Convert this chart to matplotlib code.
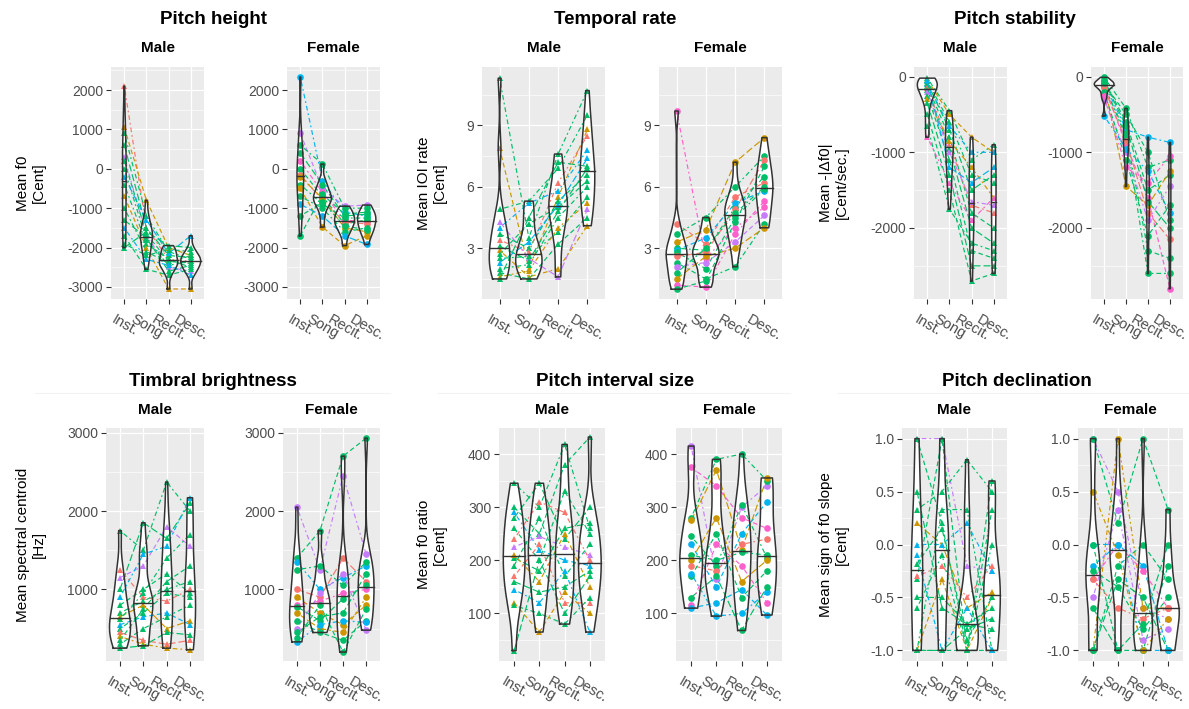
import numpy as np
import matplotlib
matplotlib.use("Agg")
import matplotlib.pyplot as plt

plt.rcParams['font.family'] = ['Liberation Sans', 'DejaVu Sans']

W, H = 1189, 709

CATS = ["Inst.", "Song", "Recit.", "Desc."]
# red, gold, green, cyan, violet, pink
COLORS = ["#F8766D", "#CD9600", "#00BE67", "#00B4EF", "#C77CFF", "#FF61CC"]

# ── data: one row per recording (Inst., Song, Recit., Desc.) ────────────────
PH_M = [[2100, -1500, -2300, -2350], [1050, -800, -2000, -2200], [900, -1200, -2100, -2300],
        [600, -1500, -2200, -2250], [300, -1700, -2500, -2600], [200, -1650, -2350, -2400],
        [0, -1800, -2450, -2350], [-200, -1300, -2150, -1700], [-400, -1900, -2300, -2500],
        [-700, -2000, -3050, -3050], [-1000, -2100, -2400, -2200], [-1300, -1750, -2600, -2450],
        [-1500, -2300, -2450, -2700], [-1700, -2550, -2700, -2550], [-1900, -2200, -2050, -2100],
        [-2000, -1600, -1950, -2000]]
PH_M_COL = [0, 1, 2, 2, 4, 2, 2, 3, 2, 1, 2, 2, 3, 2, 2, 2]
PH_F = [[2330, -300, -1100, -1200], [900, -500, -950, -920], [600, 120, -1000, -1000],
        [400, -400, -1200, -1150], [200, -600, -1300, -1350], [0, -700, -1400, -1300],
        [-150, -800, -1350, -1400], [-200, -750, -1500, -1600], [-400, -900, -1250, -1250],
        [-500, -1480, -1950, -1700], [-700, -1000, -1600, -1500], [-900, -1200, -1700, -1920],
        [-1200, -850, -1450, -1550], [-1700, -650, -1150, -1100]]
PH_F_COL = [3, 4, 2, 2, 5, 2, 0, 1, 2, 1, 2, 3, 2, 2]

TR_M = [[11.3, 3.5, 7.6, 10.7], [7.9, 2.0, 5.5, 8.8], [4.9, 5.3, 6.9, 9.5], [4.3, 2.5, 1.6, 4.9],
        [4.0, 5.2, 5.8, 7.8], [3.7, 3.0, 5.3, 6.6], [3.4, 2.8, 6.2, 8.5], [3.1, 2.4, 4.8, 6.9],
        [2.9, 1.6, 2.0, 4.1], [2.7, 4.2, 5.0, 6.3], [2.5, 2.6, 3.8, 5.5], [2.3, 3.3, 5.1, 7.4],
        [2.0, 2.2, 4.5, 6.0], [1.8, 1.5, 3.2, 4.5], [1.6, 1.9, 4.0, 5.2], [1.5, 4.5, 7.2, 7.0]]
TR_M_COL = [2, 1, 2, 4, 3, 2, 0, 2, 1, 2, 2, 3, 2, 2, 1, 2]
TR_F = [[9.7, 2.5, 4.0, 5.0], [4.2, 3.2, 5.5, 6.2], [3.7, 4.5, 6.0, 7.5], [3.3, 3.9, 7.2, 8.4],
        [3.0, 2.9, 5.0, 6.5], [2.9, 3.5, 5.2, 5.8], [2.8, 2.0, 4.5, 5.9], [2.6, 2.8, 4.9, 7.3],
        [2.3, 1.5, 2.1, 4.2], [2.1, 2.3, 3.3, 4.6], [1.8, 3.0, 4.7, 6.0], [1.5, 2.6, 3.0, 4.0],
        [1.2, 1.1, 3.7, 5.3], [1.0, 1.4, 4.3, 7.0]]
TR_F_COL = [5, 0, 2, 1, 2, 3, 2, 0, 2, 4, 2, 1, 5, 2]

PS_M = [[-20, -450, -1100, -900], [-40, -500, -800, -1000], [-60, -600, -1300, -1400],
        [-80, -700, -1500, -1300], [-100, -650, -1000, -1000], [-120, -800, -1800, -2000],
        [-150, -900, -1700, -1800], [-180, -950, -2000, -2200], [-200, -1000, -1650, -1700],
        [-250, -1100, -2300, -2400], [-300, -850, -1200, -1600], [-350, -1300, -2500, -2500],
        [-800, -1400, -1900, -1600], [-500, -1500, -2700, -2600], [-650, -1750, -2200, -2300],
        [-50, -1200, -1400, -1200]]
PS_M_COL = [2, 1, 2, 2, 3, 2, 0, 2, 4, 2, 1, 2, 5, 2, 2, 3]
PS_F = [[-10, -420, -1200, -1100], [-50, -600, -1500, -1300], [-80, -700, -800, -870],
        [-100, -1450, -1700, -1250], [-110, -800, -2600, -2600], [-120, -900, -1600, -2800],
        [-130, -750, -2300, -2400], [-150, -850, -1800, -2150], [-300, -1000, -1900, -1450],
        [-200, -1100, -2100, -1700], [-520, -950, -1250, -1800], [-60, -650, -1650, -2000],
        [-250, -1200, -1400, -1050], [-90, -500, -1000, -1900]]
PS_F_COL = [2, 2, 3, 1, 2, 5, 2, 0, 4, 2, 3, 2, 5, 2]

TB_M = [[1750, 1500, 2370, 2000], [1150, 1300, 1800, 1550], [1250, 900, 850, 1000],
        [1000, 1850, 1650, 2100], [900, 1450, 1550, 2170], [800, 1000, 1200, 950],
        [700, 850, 1000, 1100], [650, 800, 500, 600], [620, 950, 1400, 1700],
        [550, 650, 700, 550], [500, 700, 950, 900], [450, 350, 300, 350],
        [400, 300, 250, 230], [350, 750, 1100, 1300], [300, 500, 650, 800],
        [250, 280, 450, 420]]
TB_M_COL = [2, 4, 0, 2, 3, 2, 2, 1, 2, 3, 2, 0, 1, 2, 2, 2]
TB_F = [[2050, 1250, 2450, 1450], [1400, 1750, 2700, 2930], [1350, 1000, 1150, 1300],
        [1000, 900, 1400, 1100], [1250, 1300, 1050, 1350], [900, 700, 550, 800],
        [800, 850, 950, 1000], [780, 600, 880, 1050], [700, 500, 450, 900],
        [600, 450, 350, 600], [500, 950, 1200, 480], [450, 650, 700, 1200],
        [330, 550, 600, 580], [380, 800, 200, 750]]
TB_F_COL = [4, 2, 3, 0, 2, 1, 5, 2, 1, 2, 4, 2, 3, 2]

PI_M = [[345, 300, 418, 260], [300, 250, 380, 432], [240, 310, 290, 200], [280, 345, 240, 300],
        [290, 220, 200, 190], [260, 200, 330, 250], [225, 245, 225, 210], [205, 180, 260, 270],
        [210, 160, 250, 150], [190, 280, 170, 230], [170, 230, 120, 120], [160, 140, 150, 180],
        [145, 120, 180, 65], [120, 65, 140, 100], [115, 100, 80, 130], [30, 200, 100, 170]]
PI_M_COL = [2, 2, 0, 2, 3, 2, 4, 2, 1, 2, 0, 2, 3, 1, 2, 2]
PI_F = [[415, 165, 300, 340], [375, 340, 280, 260], [280, 390, 400, 350], [275, 370, 220, 355],
        [245, 190, 305, 205], [230, 150, 250, 310], [210, 200, 215, 210], [200, 280, 160, 200],
        [190, 180, 230, 240], [170, 250, 130, 180], [175, 95, 100, 140], [130, 170, 68, 150],
        [115, 230, 190, 120], [110, 120, 145, 97]]
PI_F_COL = [4, 5, 2, 1, 2, 3, 2, 1, 0, 2, 3, 2, 5, 3]

PD_M = [[1.0, 1.0, -0.2, -0.25], [1.0, 0.2, -1.0, 0.6], [0.33, 0.5, 0.8, 0.5], [0.2, 0.0, -0.6, -0.45],
        [0.0, 0.0, 0.2, -0.25], [-0.33, 1.0, -1.0, -1.0], [-0.3, -0.2, -0.5, -0.2], [-0.5, -0.5, -0.75, -0.6],
        [-1.0, 0.33, 0.33, -1.0], [-1.0, -0.33, -1.0, -0.5], [-1.0, -1.0, -1.0, 0.0], [0.5, -0.6, -0.75, -0.8],
        [-0.1, -1.0, -0.6, -1.0], [-0.18, 0.15, -0.9, -0.5], [-0.6, -0.1, -1.0, 0.33], [-1.0, -1.0, -0.8, -0.7]]
PD_M_COL = [4, 2, 2, 1, 3, 2, 0, 2, 2, 1, 2, 2, 3, 2, 2, 2]
PD_F = [[1.0, 0.5, -0.6, -0.7], [1.0, 0.2, 1.0, 0.33], [-1.0, 1.0, -0.6, -0.6], [0.0, 0.0, -0.2, -1.0],
        [-0.33, 0.0, -0.25, -0.6], [0.0, -1.0, -1.0, -0.2], [-0.5, 0.33, -0.9, -0.8], [-1.0, -0.33, -0.5, -1.0],
        [-0.33, -0.6, -0.7, -0.6], [-1.0, -0.2, 0.0, -0.33], [-0.2, 0.0, -1.0, -1.0], [-0.6, -1.0, -0.75, 0.0],
        [0.5, -0.1, -1.0, -0.7], [-0.25, -0.4, -0.8, -0.5]]
PD_F_COL = [4, 2, 1, 3, 5, 2, 4, 2, 0, 2, 3, 2, 1, 2]

PANELS = [
    dict(title="Pitch height", ylabel="Mean f0\n[Cent]", m=PH_M, mc=PH_M_COL, f=PH_F, fc=PH_F_COL,
         ylim=(-3305, 2584), ticks=[-3000, -2000, -1000, 0, 1000, 2000],
         labels=["-3000", "-2000", "-1000", "0", "1000", "2000"],
         rm=(111, 204), rf=(287, 380), row=0, tx=213, lx=31),
    dict(title="Temporal rate", ylabel="Mean IOI rate\n[Cent]", m=TR_M, mc=TR_M_COL, f=TR_F, fc=TR_F_COL,
         ylim=(0.52, 11.85), ticks=[3, 6, 9], labels=["3", "6", "9"],
         rm=(482, 605), rf=(659, 782), row=0, tx=615, lx=432),
    dict(title="Pitch stability", ylabel="Mean -|\u0394f0|\n[Cent/sec.]", m=PS_M, mc=PS_M_COL, f=PS_F, fc=PS_F_COL,
         ylim=(-2938, 127), ticks=[-2000, -1000, 0], labels=["-2000", "-1000", "0"],
         rm=(914, 1007), rf=(1091, 1183), row=0, tx=1015, lx=834),
    dict(title="Timbral brightness", ylabel="Mean spectral centroid\n[Hz]", m=TB_M, mc=TB_M_COL, f=TB_F, fc=TB_F_COL,
         ylim=(86, 3060), ticks=[1000, 2000, 3000], labels=["1000", "2000", "3000"],
         rm=(106, 204), rf=(283, 380), row=1, tx=213, lx=31),
    dict(title="Pitch interval size", ylabel="Mean f0 ratio\n[Cent]", m=PI_M, mc=PI_M_COL, f=PI_F, fc=PI_F_COL,
         ylim=(10.5, 449), ticks=[100, 200, 300, 400], labels=["100", "200", "300", "400"],
         rm=(499, 605), rf=(676, 782), row=1, tx=615, lx=432),
    dict(title="Pitch declination", ylabel="Mean sign of f0 slope\n[Cent]", m=PD_M, mc=PD_M_COL, f=PD_F, fc=PD_F_COL,
         ylim=(-1.1, 1.1), ticks=[-1, -0.5, 0, 0.5, 1], labels=["-1.0", "-0.5", "0.0", "0.5", "1.0"],
         rm=(902, 1007), rf=(1078, 1183), row=1, tx=1017, lx=834),
]

ROWS = [dict(top=67, bot=299, title_y=20, strip_y=48),
        dict(top=428, bot=661, title_y=381, strip_y=410)]

DASHES = [(0, (1.5, 2.5, 4, 2.5)), (0, (4, 2.5)), (0, (1.5, 2.5, 4, 2.5)), (0, (6, 2.5))]


def rect(x0, x1, top, bot):
    return [x0 / W, 1 - bot / H, (x1 - x0) / W, (bot - top) / H]


def nrd0(v):
    sd = np.std(v, ddof=1)
    iqr = np.subtract(*np.percentile(v, [75, 25]))
    lo = min(sd, iqr / 1.34) if iqr > 0 else sd
    if lo == 0:
        lo = abs(v[0]) if v[0] != 0 else 1.0
    return 0.9 * lo * len(v) ** -0.2


def density(v):
    v = np.asarray(v, float)
    bw = nrd0(v)
    y = np.linspace(v.min(), v.max(), 256)
    d = np.exp(-0.5 * ((y[:, None] - v[None, :]) / bw) ** 2).sum(axis=1)
    d /= len(v) * bw * np.sqrt(2 * np.pi)
    return y, d


def draw_facet(ax, rows, cols, marker, p):
    arr = np.array(rows, float)
    xs = np.arange(1, 5)
    dens = [density(arr[:, j]) for j in range(4)]
    dmax = max(d.max() for _, d in dens)
    for j, (y, d) in enumerate(dens):
        w = d / dmax * 0.45
        x = xs[j]
        ax.fill_betweenx(y, x - w, x + w, facecolor="white", edgecolor="none", zorder=1)
        ox = np.concatenate([x - w, (x + w)[::-1], [x - w[0]]])
        oy = np.concatenate([y, y[::-1], [y[0]]])
        ax.plot(ox, oy, color="#333333", lw=1.1, zorder=5)
        med = np.median(arr[:, j])
        wm = np.interp(med, y, w)
        ax.plot([x - wm, x + wm], [med, med], color="#333333", lw=1.0, zorder=5)
    for i, (r, c) in enumerate(zip(arr, cols)):
        ax.plot(xs, r, color=COLORS[c], lw=0.85, ls=DASHES[i % 4], zorder=2)
        ax.plot(xs, r, ls="none", marker=marker, ms=4.8, color=COLORS[c],
                markeredgewidth=0, zorder=3)

    ax.set_xlim(0.4, 4.6)
    ax.set_ylim(*p["ylim"])
    ax.set_facecolor("#EBEBEB")
    for s in ax.spines.values():
        s.set_visible(False)
    ax.set_xticks(xs)
    ax.set_xticklabels(CATS, rotation=-30, ha="center", va="top")
    ax.set_yticks(p["ticks"])
    ax.set_yticklabels(p["labels"])
    t = np.array(p["ticks"], float)
    step = t[1] - t[0]
    minor = np.arange(t[0] - step / 2, p["ylim"][1], step)
    ax.set_yticks([m for m in minor if p["ylim"][0] < m < p["ylim"][1]], minor=True)
    ax.tick_params(which="major", length=3.5, width=0.8, color="#333333",
                   labelcolor="#4D4D4D", labelsize=10)
    ax.tick_params(axis="x", labelsize=10.5, pad=6)
    ax.tick_params(axis="y", pad=2)
    ax.tick_params(which="minor", length=0)
    ax.set_axisbelow(True)
    ax.grid(which="major", color="white", lw=0.9)
    ax.grid(which="minor", axis="y", color="white", lw=0.45)


fig = plt.figure(figsize=(W / 100, H / 100), dpi=100)

for p in PANELS:
    rw = ROWS[p["row"]]
    for key, col_key, rr, mk, lab in [("m", "mc", p["rm"], "^", "Male"),
                                      ("f", "fc", p["rf"], "o", "Female")]:
        ax = fig.add_axes(rect(rr[0], rr[1], rw["top"], rw["bot"]))
        draw_facet(ax, p[key], p[col_key], mk, p)
        fig.text((rr[0] + rr[1]) / 2 / W, 1 - rw["strip_y"] / H, lab,
                 ha="center", va="center", fontsize=11, fontweight="bold")
    fig.text(p["tx"] / W, 1 - rw["title_y"] / H, p["title"], ha="center", va="center",
             fontsize=13.5, fontweight="bold")
    fig.text(p["lx"] / W, 1 - (rw["top"] + rw["bot"]) / 2 / H, p["ylabel"], rotation=90,
             ha="center", va="center", fontsize=11, multialignment="center", linespacing=1.1)

# faint separators under the lower titles
for x0, x1 in [(35, 390), (438, 790), (838, 1189)]:
    fig.add_artist(plt.Line2D([x0 / W, x1 / W], [1 - 393 / H, 1 - 393 / H],
                              color="#F2F2F2", lw=0.8))

fig.savefig("out.png", dpi=100)
